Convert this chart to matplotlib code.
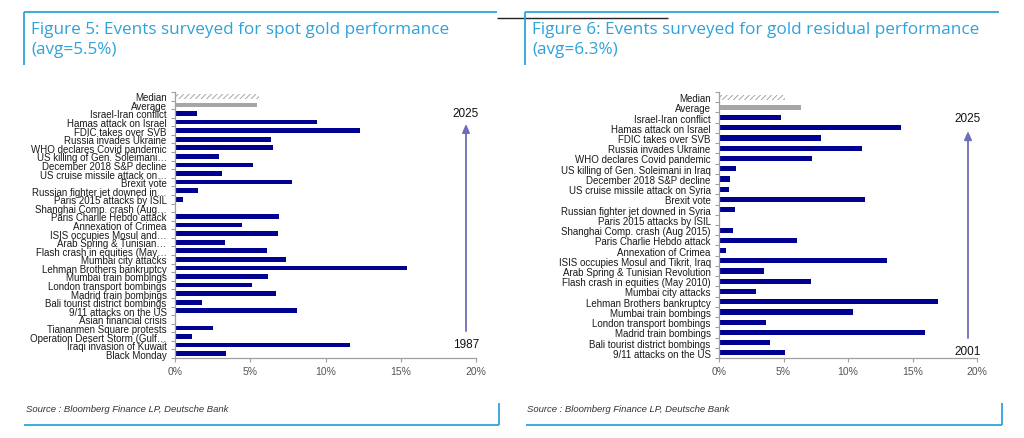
import matplotlib
matplotlib.use("Agg")
import matplotlib.pyplot as plt
from matplotlib.lines import Line2D
import numpy as np

plt.rcParams['font.family'] = ['Liberation Sans', 'DejaVu Sans']
plt.rcParams['hatch.linewidth'] = 0.6

# ---------------- data ----------------
left_labels = ["Median", "Average", "Israel-Iran conflict", "Hamas attack on Israel",
               "FDIC takes over SVB", "Russia invades Ukraine", "WHO declares Covid pandemic",
               "US killing of Gen. Soleimani…", "December 2018 S&P decline",
               "US cruise missile attack on…", "Brexit vote", "Russian fighter jet downed in…",
               "Paris 2015 attacks by ISIL", "Shanghai Comp. crash (Aug…",
               "Paris Charlie Hebdo attack", "Annexation of Crimea", "ISIS occupies Mosul and…",
               "Arab Spring & Tunisian…", "Flash crash in equities (May…", "Mumbai city attacks",
               "Lehman Brothers bankruptcy", "Mumbai train bombings", "London transport bombings",
               "Madrid train bombings", "Bali tourist district bombings", "9/11 attacks on the US",
               "Asian financial crisis", "Tiananmen Square protests",
               "Operation Desert Storm (Gulf…", "Iraqi invasion of Kuwait", "Black Monday"]
left_values = [5.6, 5.45, 1.45, 9.45, 12.3, 6.4, 6.5, 2.95, 5.2, 3.1, 7.8, 1.5, 0.5, 0.0,
               6.9, 4.45, 6.85, 3.35, 6.1, 7.4, 15.4, 6.2, 5.1, 6.7, 1.8, 8.1, 0.0, 2.5,
               1.1, 11.65, 3.4]

right_labels = ["Median", "Average", "Israel-Iran conflict", "Hamas attack on Israel",
                "FDIC takes over SVB", "Russia invades Ukraine", "WHO declares Covid pandemic",
                "US killing of Gen. Soleimani in Iraq", "December 2018 S&P decline",
                "US cruise missile attack on Syria", "Brexit vote",
                "Russian fighter jet downed in Syria", "Paris 2015 attacks by ISIL",
                "Shanghai Comp. crash (Aug 2015)", "Paris Charlie Hebdo attack",
                "Annexation of Crimea", "ISIS occupies Mosul and Tikrit, Iraq",
                "Arab Spring & Tunisian Revolution", "Flash crash in equities (May 2010)",
                "Mumbai city attacks", "Lehman Brothers bankruptcy", "Mumbai train bombings",
                "London transport bombings", "Madrid train bombings",
                "Bali tourist district bombings", "9/11 attacks on the US"]
right_values = [5.15, 6.35, 4.8, 14.1, 7.9, 11.05, 7.2, 1.3, 0.85, 0.8, 11.3, 1.25, 0.0,
                1.05, 6.05, 0.55, 13.0, 3.5, 7.15, 2.85, 16.95, 10.35, 3.65, 15.95, 3.95, 5.1]

x_ticks = [0, 5, 10, 15, 20]
x_ticklabels = ["0%", "5%", "10%", "15%", "20%"]

titles = ["Figure 5: Events surveyed for spot gold performance\n(avg=5.5%)",
          "Figure 6: Events surveyed for gold residual performance\n(avg=6.3%)"]
years = [("2025", "1987"), ("2025", "2001")]
source = "Source : Bloomberg Finance LP, Deutsche Bank"

# ---------------- styling ----------------
W, H = 1024, 439
NAVY = "#000091"
GREY = "#a6a6a6"
BLUE = "#2fa2da"
SPINE = "#a0a0a0"

fig = plt.figure(figsize=(W / 100, H / 100), dpi=100)


def fx(px):
    return px / W


def fy(py):
    return 1 - py / H


def draw_bars(ax, labels, values, bar_h):
    n = len(labels)
    y = np.arange(n)
    colors = [GREY] * 2 + [NAVY] * (n - 2)
    bars = ax.barh(y, values, height=bar_h, color=colors, linewidth=0)
    # hatched median
    bars[0].set_facecolor("white")
    bars[0].set_hatch("//////")
    bars[0].set_edgecolor("#9a9a9a")
    bars[0].set_linewidth(0)
    ax.set_ylim(n - 0.5, -0.5)
    ax.set_xlim(0, 20)
    ax.set_yticks(y)
    ax.set_yticklabels(labels, fontsize=7, color="#1a1a1a")
    ax.set_yticks(np.arange(n + 1) - 0.5, minor=True)
    ax.tick_params(axis="y", which="major", length=0, pad=6)
    ax.tick_params(axis="y", which="minor", length=3, color=SPINE, width=0.8)
    ax.set_xticks(x_ticks)
    ax.set_xticklabels(x_ticklabels, fontsize=7.5, color="#555555")
    ax.tick_params(axis="x", length=3, color=SPINE, width=0.8, pad=3)
    for s in ("top", "right"):
        ax.spines[s].set_visible(False)
    for s in ("left", "bottom"):
        ax.spines[s].set_color(SPINE)
        ax.spines[s].set_linewidth(0.9)


def draw_arrow(ax, xf, y_bot, y_top, y_txt_top, y_txt_bot, txt_top, txt_bot):
    ax.annotate("", xy=(xf, y_top), xytext=(xf, y_bot), xycoords="axes fraction",
                arrowprops=dict(arrowstyle="-|>,head_length=0.5,head_width=0.22",
                                color="#6d6db8", lw=1.3, shrinkA=0, shrinkB=0),
                annotation_clip=False)
    ax.text(xf, y_txt_top, txt_top, transform=ax.transAxes, ha="center", va="center",
            fontsize=8.5, color="#111111")
    ax.text(xf, y_txt_bot, txt_bot, transform=ax.transAxes, ha="center", va="center",
            fontsize=8.5, color="#111111")


# left axes
axL = fig.add_axes([fx(175), fy(359), fx(476) - fx(175), fy(93) - fy(359)])
draw_bars(axL, left_labels, left_values, 0.55)
draw_arrow(axL, (466 - 175) / 301, 0.101, 0.88, 0.921, 0.053, *years[0])

# right axes
axR = fig.add_axes([fx(719), fy(359), fx(977) - fx(719), fy(93) - fy(359)])
draw_bars(axR, right_labels, right_values, 0.5)
draw_arrow(axR, (968 - 719) / 258, 0.075, 0.853, 0.902, 0.026, *years[1])

# titles
for xp, t in ((31, titles[0]), (532, titles[1])):
    fig.text(fx(xp), fy(22), t, fontsize=12.3, color=BLUE, ha="left", va="top",
             linespacing=1.36, family=["Open Sans", "DejaVu Sans"])

# sources
for xp in (26, 527):
    fig.text(fx(xp), fy(410), source, fontsize=6.8, style="italic", color="#333333",
             ha="left", va="center")


def line(x0, y0, x1, y1, color=BLUE, lw=1.3):
    fig.add_artist(Line2D([fx(x0), fx(x1)], [fy(y0), fy(y1)], color=color, lw=lw,
                          transform=fig.transFigure, solid_capstyle="butt"))


# decorative frame lines
line(24, 13, 497, 13)
line(24, 13, 24, 66)
line(497, 19, 668, 19, color="#222222", lw=1.0)
line(525, 13, 999, 13)
line(525, 13, 525, 66)
line(24, 426, 499, 426)
line(499, 404, 499, 426)
line(526, 426, 1002, 426)
line(1002, 404, 1002, 426)

fig.savefig("out.png", dpi=100)
